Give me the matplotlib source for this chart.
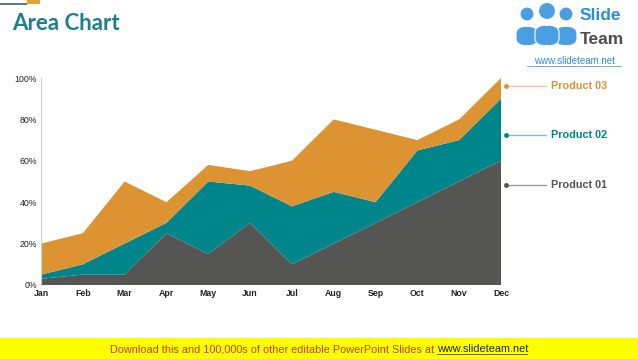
"""Stacked area chart: monthly share by product."""

import matplotlib.pyplot as plt
import numpy as np
from matplotlib.patches import Rectangle, Ellipse, FancyBboxPatch
from matplotlib.ticker import FuncFormatter

plt.rcParams["font.family"] = ["Liberation Sans", "DejaVu Sans"]

months = ["Jan", "Feb", "Mar", "Apr", "May", "Jun", "Jul", "Aug", "Sep", "Oct", "Nov", "Dec"]
product_01 = [3, 5, 5, 25, 15, 30, 10, 20, 30, 40, 50, 60]
product_02 = [2, 5, 15, 5, 35, 18, 28, 25, 10, 25, 20, 30]
product_03 = [15, 15, 30, 10, 8, 7, 22, 35, 35, 5, 10, 10]
series_names = ["Product 01", "Product 02", "Product 03"]
y_ticks = [0, 20, 40, 60, 80, 100]

GRAY = "#555553"
TEAL = "#00868A"
ORANGE = "#DE9332"
W, H = 638, 359


def fx(px):
    return px / W


def fy(py):
    return 1 - py / H


fig = plt.figure(figsize=(W / 100, H / 100), dpi=100)

ax = fig.add_axes([fx(41), fy(285), fx(460), (285 - 78) / H])
x = np.arange(len(months))
ax.stackplot(x, product_01, product_02, product_03,
             colors=[GRAY, TEAL, ORANGE], linewidth=0)
ax.set_xlim(0, len(months) - 1)
ax.set_ylim(0, 100)
ax.set_xticks(x)
ax.set_xticklabels(months, fontsize=6.3, fontweight="bold", color="#222222")
ax.set_yticks(y_ticks)
ax.yaxis.set_major_formatter(FuncFormatter(lambda v, _: f"{int(v)}%"))
for lbl in ax.get_yticklabels():
    lbl.set_fontsize(6.3)
    lbl.set_color("#222222")
ax.tick_params(length=0, pad=3)
for side in ["top", "right", "bottom"]:
    ax.spines[side].set_visible(False)
ax.spines["left"].set_color("#cccccc")
ax.spines["left"].set_linewidth(0.8)

# side labels
label_y = [185, 135, 86]
line_cols = ["#9a9a9a", "#7fc0c3", "#f0c58e"]
text_cols = [GRAY, TEAL, ORANGE]
for name, py, lc, tc in zip(series_names, label_y, line_cols, text_cols):
    fig.add_artist(plt.Line2D([fx(506), fx(546)], [fy(py), fy(py)], color=lc, lw=1))
    fig.add_artist(plt.Line2D([fx(506)], [fy(py)], marker="o", ms=2.5, color=tc, lw=0))
    fig.text(fx(551), fy(py), name, color=tc, fontsize=7.8, fontweight="bold",
             va="center", ha="left")

# title and decorations
fig.text(fx(12), fy(24), "Area Chart", color="#1b7f8c", fontsize=16,
         fontweight="bold", family=["Lato", "DejaVu Sans"], va="center")
fig.add_artist(Rectangle((0, fy(5)), fx(27), 2 / H, color="#5f7f7d", lw=0))
fig.add_artist(Rectangle((fx(27), fy(4)), fx(13), 4 / H, color="#e5a43a", lw=0))

# logo
LOGO = "#4a9fe0"
for cx, cy, r in [(527, 14, 7), (566, 14, 7), (547, 11, 8.5)]:
    fig.add_artist(Ellipse((fx(cx), fy(cy)), 2 * r / W, 2 * r / H, color=LOGO, lw=0.8,
                           ec="white"))
for cx, top, half in [(527, 26, 11), (566, 26, 11), (547, 25, 12)]:
    fig.add_artist(FancyBboxPatch((fx(cx - half), fy(46)), fx(2 * half), (46 - top) / H,
                                  boxstyle="round,pad=0,rounding_size=0.02",
                                  color=LOGO, ec="white", lw=0.8))
fig.text(fx(580), fy(16), "Slide", color="#2a8fd6", fontsize=12.5, fontweight="bold", va="center")
fig.text(fx(580), fy(39), "Team", color="#4d4d4d", fontsize=12.5, fontweight="bold", va="center")
fig.text(fx(574), fy(61), "www.slideteam.net", color="#2a8fd6", fontsize=7,
         ha="center", va="center")
fig.add_artist(plt.Line2D([fx(527), fx(621)], [fy(66), fy(66)], color="#2a8fd6", lw=0.5))

# footer banner
fig.add_artist(Rectangle((0, 0), 1, (H - 338) / H, color="#ffff00", lw=0))
fig.text(fx(437), fy(349), "Download this and 100,000s of other editable PowerPoint Slides at ",
         color="#d03a00", fontsize=7.8, ha="right", va="center")
fig.text(fx(437), fy(349), "www.slideteam.net", color="#222222", fontsize=7.8,
         ha="left", va="center")
fig.add_artist(plt.Line2D([fx(437), fx(527)], [fy(354), fy(354)], color="#222222", lw=0.5))

fig.savefig("out.png", dpi=100)
